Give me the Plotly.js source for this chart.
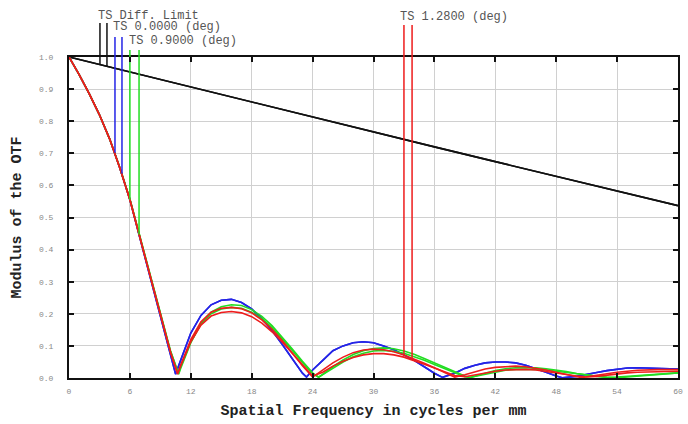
<!DOCTYPE html>
<html>
<head>
<meta charset="utf-8">
<script src="https://cdn.plot.ly/plotly-3.0.1.min.js"></script>
<style>html,body{margin:0;padding:0;background:#fff;}#chart{width:688px;height:424px;}</style>
</head>
<body>
<div id="chart"></div>
<script>
// ---- data ----
const xTickVals = [0, 6, 12, 18, 24, 30, 36, 42, 48, 54, 60];
const xTickText = ["0", "6", "12", "18", "24", "30", "36", "42", "48", "54", "60"];
const yTickVals = [0, 0.1, 0.2, 0.3, 0.4, 0.5, 0.6, 0.7, 0.8, 0.9, 1.0];
const yTickText = ["0.0", "0.1", "0.2", "0.3", "0.4", "0.5", "0.6", "0.7", "0.8", "0.9", "1.0"];

const diffFreq = [0, 6, 12, 18, 24, 30, 36, 42, 48, 54, 60];
const diffMtf = [1.0, 0.953, 0.906, 0.859, 0.813, 0.766, 0.720, 0.674, 0.629, 0.584, 0.537];

const blueFreq = [0,1,2,3,4,5,6,7,8,9,10,10.5,11,12,13,14,15,16,17,18,19,20,21,22,23,23.4,24,25,26,27,28,29,30,31,32,33,34,35,36,36.8,38,39,40,41,42,43,44,45,46,47,48,48.6,50,51,52,53,54,55,56,58,60];
const blueMtf = [1.0,0.945,0.885,0.82,0.745,0.655,0.555,0.435,0.31,0.19,0.075,0.012,0.055,0.14,0.195,0.228,0.242,0.245,0.235,0.215,0.185,0.148,0.105,0.06,0.015,0.003,0.025,0.055,0.085,0.1,0.11,0.113,0.11,0.1,0.088,0.072,0.055,0.035,0.015,0.002,0.015,0.03,0.04,0.047,0.05,0.05,0.047,0.04,0.03,0.018,0.006,0.001,0.005,0.01,0.017,0.023,0.028,0.031,0.032,0.031,0.028];

const greenFreq = [0,1,2,3,4,5,6,7,8,9,10,10.8,11,12,13,14,15,16,17,18,19,20,21,22,23,24,24.6,25,26,27,28,29,30,31,32,33,34,35,36,37,38,39,39.5,40,41,42,43,44,45,46,47,48,49,50,51,52,53,54,55,56,58,60];
const greenTMtf = [1.0,0.945,0.885,0.82,0.745,0.656,0.558,0.44,0.318,0.198,0.085,0.012,0.03,0.11,0.17,0.205,0.222,0.228,0.226,0.213,0.192,0.163,0.128,0.09,0.052,0.016,0.002,0.012,0.035,0.056,0.073,0.085,0.092,0.094,0.091,0.084,0.074,0.061,0.047,0.033,0.019,0.006,0.001,0.006,0.015,0.023,0.029,0.032,0.033,0.032,0.029,0.025,0.02,0.014,0.009,0.005,0.002,0.001,0.003,0.006,0.012,0.016];
const greenSMtf = [1.0,0.945,0.885,0.82,0.745,0.656,0.557,0.439,0.316,0.196,0.083,0.014,0.035,0.112,0.168,0.2,0.215,0.22,0.217,0.205,0.185,0.157,0.123,0.086,0.048,0.013,0.003,0.01,0.03,0.05,0.066,0.077,0.084,0.086,0.083,0.077,0.067,0.055,0.042,0.029,0.016,0.004,0.002,0.005,0.012,0.019,0.024,0.027,0.028,0.027,0.025,0.021,0.017,0.012,0.008,0.004,0.002,0.003,0.005,0.008,0.013,0.016];

const redFreq = [0,1,2,3,4,5,6,7,8,9,10,10.7,11,12,13,14,15,16,17,18,19,20,21,22,23,24,25,26,27,28,29,30,31,32,33,34,35,36,37,38,39,40,41,42,43,44,45,46,47,48,49,50,50.5,51,52,53,54,55,56,58,60];
const redTMtf = [1.0,0.945,0.885,0.82,0.745,0.655,0.555,0.437,0.313,0.193,0.08,0.012,0.04,0.12,0.175,0.205,0.217,0.22,0.216,0.203,0.181,0.152,0.117,0.078,0.038,0.003,0.025,0.047,0.065,0.079,0.087,0.09,0.088,0.082,0.072,0.06,0.046,0.032,0.017,0.003,0.01,0.02,0.028,0.033,0.036,0.037,0.035,0.031,0.025,0.018,0.011,0.004,0.001,0.004,0.009,0.014,0.018,0.021,0.024,0.026,0.026];
const redSMtf = [1.0,0.945,0.885,0.82,0.745,0.655,0.555,0.437,0.313,0.193,0.08,0.015,0.038,0.113,0.165,0.193,0.204,0.207,0.203,0.191,0.171,0.144,0.112,0.076,0.04,0.006,0.018,0.037,0.052,0.064,0.072,0.076,0.076,0.072,0.065,0.055,0.043,0.031,0.019,0.008,0.004,0.01,0.016,0.021,0.025,0.027,0.027,0.025,0.021,0.016,0.011,0.006,0.004,0.003,0.005,0.009,0.013,0.016,0.018,0.02,0.021];

// legend marker pairs (T, S)
const legendNames = ["TS Diff. Limit", "TS 0.0000 (deg)", "TS 0.9000 (deg)", "TS 1.2800 (deg)"];
const legendFreq = [[3.05, 3.74], [4.53, 5.22], [6.0, 6.9], [33.0, 33.8]];
const legendBottom = [[0.976, 0.971], [0.702, 0.637], [0.555, 0.447], [0.068, 0.058]];
const legendTop = [1.106, 1.062, 1.022, 1.100];
const legendTextX = [2.62, 4.12, 5.70, 32.4];
const legendTextY = [1.128, 1.093, 1.050, 1.125];

// ---- styling ----
const colors = ["#111111", "#2424e6", "#22dd22", "#ee1c1c"];
const mono = "Liberation Mono, DejaVu Sans Mono, monospace";

const traces = [];
function curve(x, y, c) {
  traces.push({x: x, y: y, type: "scatter", mode: "lines", xaxis: "x", yaxis: "y",
    line: {color: c, width: 1.6}, hoverinfo: "skip", showlegend: false});
}
curve(diffFreq, diffMtf, colors[0]);
curve(diffFreq, diffMtf, colors[0]);
curve(blueFreq, blueMtf, colors[1]);
curve(blueFreq, blueMtf, colors[1]);
curve(greenFreq, greenSMtf, colors[2]);
curve(greenFreq, greenTMtf, colors[2]);
curve(redFreq, redSMtf, colors[3]);
curve(redFreq, redTMtf, colors[3]);

for (let i = 0; i < legendNames.length; i++) {
  const f = legendFreq[i], b = legendBottom[i];
  traces.push({x: [f[0], f[0], null, f[1], f[1]], y: [b[0], 1, null, b[1], 1],
    type: "scatter", mode: "lines", xaxis: "x", yaxis: "y",
    line: {color: colors[i], width: 1.5}, hoverinfo: "skip", showlegend: false});
  traces.push({x: [f[0], f[0], null, f[1], f[1]], y: [1, legendTop[i], null, 1, legendTop[i]],
    type: "scatter", mode: "lines", xaxis: "x2", yaxis: "y2",
    line: {color: colors[i], width: 1.5}, hoverinfo: "skip", showlegend: false});
}

const annotations = legendNames.map((t, i) => ({
  text: t, x: legendTextX[i], y: legendTextY[i], xref: "x2", yref: "y2",
  xanchor: "left", yanchor: "middle", showarrow: false,
  font: {family: mono, size: 12, color: "#555"}
}));

const mainDomTop = (378 - 57) / 368;

const layout = {
  width: 688, height: 424,
  margin: {l: 69, r: 10, t: 10, b: 46},
  paper_bgcolor: "#fff", plot_bgcolor: "#fff",
  showlegend: false,
  xaxis: {
    range: [0, 60], domain: [0, 1], anchor: "y",
    tickmode: "array", tickvals: xTickVals, ticktext: xTickText,
    ticks: "inside", ticklen: 5, tickwidth: 2, tickcolor: "#111",
    showline: true, linewidth: 2, linecolor: "#111", mirror: "ticks",
    showgrid: true, gridcolor: "#d0d0d0", gridwidth: 1, zeroline: false,
    tickfont: {family: mono, size: 8, color: "#888"},
    ticklabelstandoff: 4,
    title: {text: "Spatial Frequency in cycles per mm", standoff: 10,
      font: {family: mono, size: 15, color: "#222", weight: "bold"}}
  },
  yaxis: {
    range: [0, 1], domain: [0, mainDomTop], anchor: "x",
    tickmode: "array", tickvals: yTickVals, ticktext: yTickText,
    ticks: "inside", ticklen: 5, tickwidth: 2, tickcolor: "#111",
    showline: true, linewidth: 2, linecolor: "#111", mirror: "ticks",
    showgrid: true, gridcolor: "#d0d0d0", gridwidth: 1, zeroline: false,
    tickfont: {family: mono, size: 8, color: "#888"},
    ticklabelstandoff: 12,
    title: {text: "Modulus of the OTF", standoff: 14,
      font: {family: mono, size: 15, color: "#222", weight: "bold"}}
  },
  xaxis2: {range: [0, 60], domain: [0, 1], anchor: "y2", visible: false, fixedrange: true},
  yaxis2: {range: [1, 1 + 47 / 321], domain: [mainDomTop, 1], anchor: "x2", visible: false, fixedrange: true},
  annotations: annotations
};

Plotly.newPlot("chart", traces, layout, {displayModeBar: false, staticPlot: true});
</script>
</body>
</html>
